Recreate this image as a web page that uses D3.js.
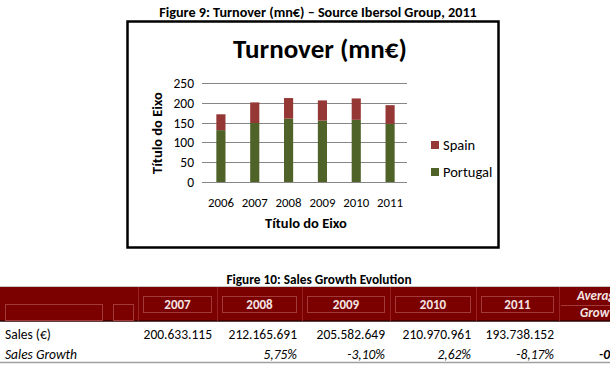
<!DOCTYPE html>
<html>
<head>
<meta charset="utf-8">
<script src="https://cdn.jsdelivr.net/npm/d3@7"></script>
<style>
  body { margin: 0; background: #fff; }
  svg { display: block; font-family: Carlito, Lato, sans-serif; }
</style>
</head>
<body>
<svg id="chart" width="610" height="376"></svg>
<script>
// chart data (mn€)
var years = ['2006', '2007', '2008', '2009', '2010', '2011'];
var portugal = [131, 149, 160, 155, 157, 147];
var spain = [40, 52, 52, 51, 54, 47];
var yTicks = [0, 50, 100, 150, 200, 250];

// table data
var tableYears = ['2007', '2008', '2009', '2010', '2011'];
var sales = [200633115, 212165691, 205582649, 210970961, 193738152];
var growth = [null, 5.75, -3.10, 2.62, -8.17];
var avgGrowth = '-0,87%';

var svg = d3.select('#chart');

// figure caption
svg.append('text')
  .attr('x', 318).attr('y', 17)
  .attr('text-anchor', 'middle')
  .style('font-size', '14.2px').style('font-weight', 'bold')
  .text('Figure 9: Turnover (mn€) – Source Ibersol Group, 2011');

// chart frame
svg.append('rect')
  .attr('x', 127.5).attr('y', 21.5)
  .attr('width', 371).attr('height', 226)
  .attr('fill', '#fff').attr('stroke', '#000').attr('stroke-width', 2.5);

svg.append('text')
  .attr('x', 320).attr('y', 58)
  .attr('text-anchor', 'middle')
  .style('font-size', '27px').style('font-weight', 'bold')
  .text('Turnover (mn€)');

var x = d3.scaleBand().domain(years).range([204, 407]).paddingInner(0.73).paddingOuter(0.365);
var y = d3.scaleLinear().domain([0, 250]).range([182, 83]);

// gridlines
svg.append('g').selectAll('line')
  .data(yTicks)
  .enter().append('line')
  .attr('x1', 202).attr('x2', 407)
  .attr('y1', d => Math.round(y(d)) + 0.5).attr('y2', d => Math.round(y(d)) + 0.5)
  .attr('stroke', '#868686');

svg.append('g').selectAll('text')
  .data(yTicks)
  .enter().append('text')
  .attr('x', 194).attr('y', d => y(d) + 5)
  .attr('text-anchor', 'end')
  .style('font-size', '13.5px')
  .text(d => d);

var stack = years.map((yr, i) => ({ year: yr, p: portugal[i], s: spain[i] }));

svg.append('g').selectAll('rect')
  .data(stack)
  .enter().append('rect')
  .attr('x', d => x(d.year)).attr('width', x.bandwidth())
  .attr('y', d => y(d.p)).attr('height', d => y(0) - y(d.p))
  .attr('fill', '#4f6228');

svg.append('g').selectAll('rect')
  .data(stack)
  .enter().append('rect')
  .attr('x', d => x(d.year)).attr('width', x.bandwidth())
  .attr('y', d => y(d.p + d.s)).attr('height', d => y(d.p) - y(d.p + d.s))
  .attr('fill', '#953735');

svg.append('g').selectAll('text')
  .data(years)
  .enter().append('text')
  .attr('x', d => x(d) + x.bandwidth() / 2).attr('y', 207)
  .attr('text-anchor', 'middle')
  .style('font-size', '12.8px')
  .text(d => d);

svg.append('text')
  .attr('x', 306).attr('y', 228)
  .attr('text-anchor', 'middle')
  .style('font-size', '14.5px').style('font-weight', 'bold')
  .text('Título do Eixo');

svg.append('text')
  .attr('transform', 'translate(162,133) rotate(-90)')
  .attr('text-anchor', 'middle')
  .style('font-size', '14.5px').style('font-weight', 'bold')
  .text('Título do Eixo');

// legend
var legend = [{ name: 'Spain', color: '#953735' }, { name: 'Portugal', color: '#4f6228' }];
var lg = svg.append('g').selectAll('g')
  .data(legend)
  .enter().append('g')
  .attr('transform', (d, i) => 'translate(431,' + (141 + i * 27) + ')');
lg.append('rect').attr('width', 8).attr('height', 8).attr('fill', d => d.color);
lg.append('text').attr('x', 12).attr('y', 9)
  .style('font-size', '14.5px')
  .text(d => d.name);

// ---- table ----
svg.append('text')
  .attr('x', 319).attr('y', 284)
  .attr('text-anchor', 'middle')
  .style('font-size', '13.3px').style('font-weight', 'bold')
  .text('Figure 10: Sales Growth Evolution');

var colEdges = [138, 217, 302, 390, 476, 559];
var colX = d3.scaleOrdinal().domain(tableYears).range(colEdges.slice(0, 5));
var colW = (d, i) => colEdges[i + 1] - colEdges[i];

var t = svg.append('g');
t.append('line').attr('x1', 0).attr('x2', 610).attr('y1', 286.5).attr('y2', 286.5).attr('stroke', '#c8c8c8');
t.append('rect').attr('x', 0).attr('y', 287).attr('width', 610).attr('height', 34).attr('fill', '#7b0000');
t.append('line').attr('x1', 0).attr('x2', 610).attr('y1', 321).attr('y2', 321).attr('stroke', '#2a0000').attr('stroke-width', 1.5);

// header separators and inner frames
t.selectAll('line.sep')
  .data(colEdges)
  .enter().append('line')
  .attr('class', 'sep')
  .attr('x1', d => d + 0.5).attr('x2', d => d + 0.5)
  .attr('y1', 287).attr('y2', 321)
  .attr('stroke', '#962222');

var frames = [[5, 304, 97, 16], [113, 304, 20, 16]];
t.selectAll('rect.frame')
  .data(frames)
  .enter().append('rect')
  .attr('class', 'frame')
  .attr('x', d => d[0] + 0.5).attr('y', d => d[1] + 0.5)
  .attr('width', d => d[2]).attr('height', d => d[3])
  .attr('fill', 'none').attr('stroke', '#a33a3a');

t.selectAll('rect.yframe')
  .data(tableYears)
  .enter().append('rect')
  .attr('class', 'yframe')
  .attr('x', d => colX(d) + 5.5).attr('y', 296.5)
  .attr('width', (d, i) => colW(d, i) - 11).attr('height', 16)
  .attr('fill', 'none').attr('stroke', '#a33a3a');

t.selectAll('text.yr')
  .data(tableYears)
  .enter().append('text')
  .attr('class', 'yr')
  .attr('x', (d, i) => colX(d) + colW(d, i) / 2).attr('y', 309)
  .attr('text-anchor', 'middle')
  .attr('fill', '#f4e4e4')
  .style('font-size', '13px').style('font-weight', 'bold')
  .text(d => d);

t.append('line').attr('x1', 561).attr('x2', 610).attr('y1', 305.5).attr('y2', 305.5).attr('stroke', '#a33a3a');
t.append('text').attr('x', 577).attr('y', 300)
  .attr('fill', '#f4e4e4')
  .style('font-size', '13px').style('font-weight', 'bold').style('font-style', 'italic')
  .text('Average');
t.append('text').attr('x', 580).attr('y', 317)
  .attr('fill', '#f4e4e4')
  .style('font-size', '13px').style('font-weight', 'bold').style('font-style', 'italic')
  .text('Growth');

// body rows
var fmt = d3.formatLocale({ decimal: ',', thousands: '.', grouping: [3], currency: ['', '€'], minus: '-' });
var fmtInt = fmt.format(',d');
var fmtPct = fmt.format('.2f');

t.append('text').attr('x', 5).attr('y', 339)
  .style('font-size', '13.5px').text('Sales (€)');
t.append('text').attr('x', 5).attr('y', 359)
  .style('font-size', '13.5px').style('font-style', 'italic').text('Sales Growth');

t.selectAll('text.sales')
  .data(sales)
  .enter().append('text')
  .attr('class', 'sales')
  .attr('x', (d, i) => colEdges[i + 1] - 5).attr('y', 339)
  .attr('text-anchor', 'end')
  .style('font-size', '13.5px')
  .text(d => fmtInt(d));

t.selectAll('text.growth')
  .data(growth)
  .enter().append('text')
  .attr('class', 'growth')
  .attr('x', (d, i) => colEdges[i + 1] - 5).attr('y', 359)
  .attr('text-anchor', 'end')
  .style('font-size', '13.5px').style('font-style', 'italic')
  .text(d => d === null ? '' : fmtPct(d) + '%');

t.append('text').attr('x', 599).attr('y', 359)
  .style('font-size', '13.5px').style('font-style', 'italic').style('font-weight', 'bold')
  .text(avgGrowth);

t.append('line').attr('x1', 0).attr('x2', 610).attr('y1', 362.5).attr('y2', 362.5)
  .attr('stroke', '#a0a0a0').attr('stroke-width', 1.5);
</script>
</body>
</html>
